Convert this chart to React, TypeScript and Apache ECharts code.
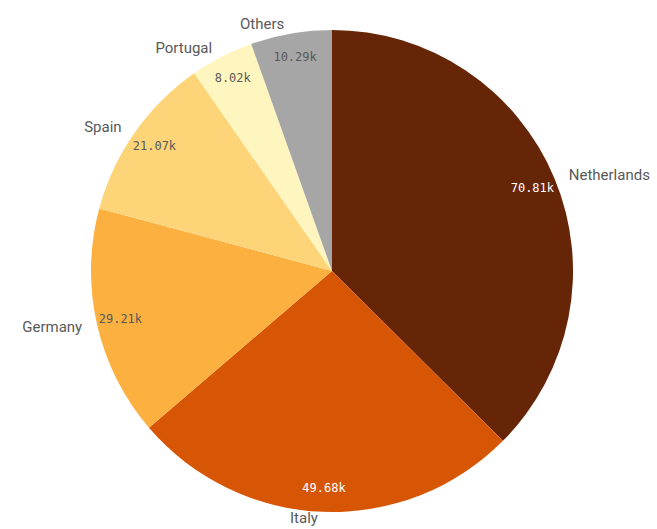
import React, { useEffect, useRef } from "react";
import * as echarts from "echarts";

const categories = ["Netherlands", "Italy", "Germany", "Spain", "Portugal", "Others"];
const values = [70.81, 49.68, 29.21, 21.07, 8.02, 10.29];
const valueLabels = ["70.81k", "49.68k", "29.21k", "21.07k", "8.02k", "10.29k"];
const colors = ["#662506", "#d65606", "#fbb040", "#fdd478", "#fff5bf", "#a6a6a6"];
const valueLabelColors = ["#ffffff", "#ffffff", "#595959", "#595959", "#595959", "#595959"];

export default function App() {
  const ref = useRef<HTMLDivElement>(null);
  useEffect(() => {
    if (!ref.current) return;
    const chart = echarts.init(ref.current, null, { renderer: "svg" });
    const center = [332, 271];
    chart.setOption({
      animation: false,
      series: [
        {
          type: "pie",
          center,
          radius: [0, 241],
          startAngle: 90,
          clockwise: true,
          silent: true,
          avoidLabelOverlap: false,
          data: categories.map((c, i) => ({
            name: c,
            value: values[i],
            itemStyle: { color: colors[i] },
            labelLine: c === "Italy" ? { show: false, length: 6, length2: 0 } : undefined,
          })),
          label: {
            show: true,
            position: "outside",
            formatter: "{b}",
            color: "#595959",
            fontFamily: "Roboto",
            fontSize: 15,
          },
          labelLine: { show: false, length: 10, length2: 0 },
        },
        {
          type: "pie",
          center,
          radius: [188, 240],
          startAngle: 90,
          clockwise: true,
          silent: true,
          avoidLabelOverlap: false,
          itemStyle: { color: "transparent" },
          data: categories.map((c, i) => ({
            name: c,
            value: values[i],
            label: { color: valueLabelColors[i] },
          })),
          label: {
            show: true,
            position: "inside",
            formatter: (p: any) => valueLabels[p.dataIndex],
            fontFamily: "DejaVu Sans Mono",
            fontSize: 12,
          },
          labelLine: { show: false },
        },
      ],
    });
    return () => chart.dispose();
  }, []);
  return (
    <div
      ref={ref}
      style={{ position: "absolute", left: 0, top: 0, width: 657, height: 529 }}
    />
  );
}
